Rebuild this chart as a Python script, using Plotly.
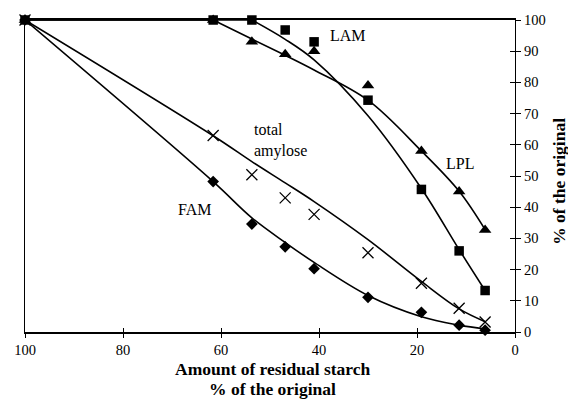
import plotly.graph_objects as go

# Residual starch (% of the original) at each sampling point
residual = [100, 61.6, 53.7, 46.9, 41.0, 30.0, 19.1, 11.4, 6.1]

# Remaining fraction of each component (% of the original)
lam = [100, 100, 100, 96.8, 93.0, 74.3, 45.7, 26.0, 13.3]
lpl = [100, 100, 93.0, 89.0, 90.0, 79.0, 58.0, 45.0, 32.7]
total_amylose = [100, 63.0, 50.4, 43.0, 37.7, 25.4, 15.6, 7.6, 3.2]
fam = [100, 48.2, 34.6, 27.3, 20.3, 11.1, 6.3, 2.2, 0.6]

# Smoothed trend curves, evaluated at the same residual-starch values
fam_trend = [100, 48.2, 36.6, 28.7, 22.3, 11.7, 4.9, 2.2, 0.95]
total_trend = [100, 62.9, 54.6, 47.8, 41.8, 29.6, 16.2, 7.4, 3.3]
lam_trend = [100, 100, 100, 93.8, 87.2, 69.3, 46.0, 26.4, 13.3]
lpl_trend = [100, 100, 93.9, 88.7, 84.0, 74.3, 58.0, 45.1, 32.8]

# Index where each decline starts (before it the level stays at 100 %)
lam_onset = 2
lpl_onset = 1

x_ticks = [0, 20, 40, 60, 80, 100]
y_ticks = list(range(0, 101, 10))

FONT = "Liberation Serif"
BLACK = "black"

fig = go.Figure()

line_style = dict(color=BLACK, width=1.6)
spline_style = dict(color=BLACK, width=1.6, shape="spline", smoothing=1.0)

# Trend curves
for ys in (fam_trend, total_trend):
    fig.add_trace(go.Scatter(x=residual, y=ys, mode="lines", line=spline_style,
                             hoverinfo="skip"))

for ys, onset in ((lam_trend, lam_onset), (lpl_trend, lpl_onset)):
    # plateau
    fig.add_trace(go.Scatter(x=residual[:onset + 1], y=ys[:onset + 1],
                             mode="lines", line=line_style, hoverinfo="skip"))
    # decline
    fig.add_trace(go.Scatter(x=residual[onset:], y=ys[onset:], mode="lines",
                             line=spline_style, hoverinfo="skip"))

# Measured points
markers = [
    (total_amylose, dict(symbol="x-thin-open", size=11, color=BLACK,
                         line=dict(color=BLACK, width=1.3))),
    (fam, dict(symbol="diamond", size=9, color=BLACK)),
    (lpl, dict(symbol="triangle-up", size=11, color=BLACK)),
    (lam, dict(symbol="square", size=9.5, color=BLACK)),
]
for ys, mk in markers:
    fig.add_trace(go.Scatter(x=residual, y=ys, mode="markers", marker=mk,
                             cliponaxis=False))

# Invisible trace that carries the inward tick overlay axes
fig.add_trace(go.Scatter(x=[100, 0], y=[0, 100], xaxis="x2", yaxis="y2",
                         mode="markers", marker=dict(opacity=0),
                         hoverinfo="skip"))

tick_font = dict(family=FONT, size=14.5, color=BLACK)

fig.update_layout(
    width=568, height=400,
    margin=dict(l=25, r=53, t=17, b=68),
    paper_bgcolor="white", plot_bgcolor="white",
    showlegend=False,
    xaxis=dict(range=[100, 0], tickvals=x_ticks, ticks="outside", ticklen=4,
               tickwidth=1.2, tickcolor=BLACK, showline=True, linewidth=1.6,
               linecolor=BLACK, mirror=True, showgrid=False, zeroline=False,
               tickfont=tick_font),
    xaxis2=dict(range=[100, 0], overlaying="x", tickvals=x_ticks,
                ticks="inside", ticklen=4, tickwidth=1.2, tickcolor=BLACK,
                showticklabels=False, showgrid=False, zeroline=False,
                showline=False),
    yaxis=dict(range=[0, 100], side="right", tickvals=y_ticks,
               ticks="outside", ticklen=5, tickwidth=1.2, tickcolor=BLACK,
               showline=True, linewidth=1.4, linecolor=BLACK, mirror=True,
               showgrid=False, zeroline=False, tickfont=tick_font),
    yaxis2=dict(range=[0, 100], overlaying="y", side="right",
                tickvals=y_ticks, ticks="inside", ticklen=5, tickwidth=1.2,
                tickcolor=BLACK, showticklabels=False, showgrid=False,
                zeroline=False, showline=False),
)

label_font = dict(family=FONT, size=16, color=BLACK)
title_font = dict(family=FONT, size=17.5, color=BLACK)

annotations = [
    dict(x=34.1, y=94.9, text="LAM", font=label_font),
    dict(x=11.2, y=54.0, text="LPL", font=label_font),
    dict(x=65.3, y=39.4, text="FAM", font=label_font),
    dict(x=53.7, y=61.4, text="total<br>amylose", font=label_font,
         xanchor="left", align="left"),
    # x-axis title, two lines
    dict(x=0.506, y=-0.118, xref="paper", yref="paper", yanchor="middle",
         text="<b>Amount of residual starch</b>", font=title_font),
    dict(x=0.506, y=-0.184, xref="paper", yref="paper", yanchor="middle",
         text="<b>% of the original</b>", font=title_font),
    # y-axis title
    dict(x=1.115, y=0.4825, xref="paper", yref="paper",
         text="<b>% of the original</b>", font=title_font, textangle=-90),
]
for a in annotations:
    a.setdefault("xref", "x")
    a.setdefault("yref", "y")
    a.setdefault("showarrow", False)
    fig.add_annotation(**a)

fig.write_html("out.html")
